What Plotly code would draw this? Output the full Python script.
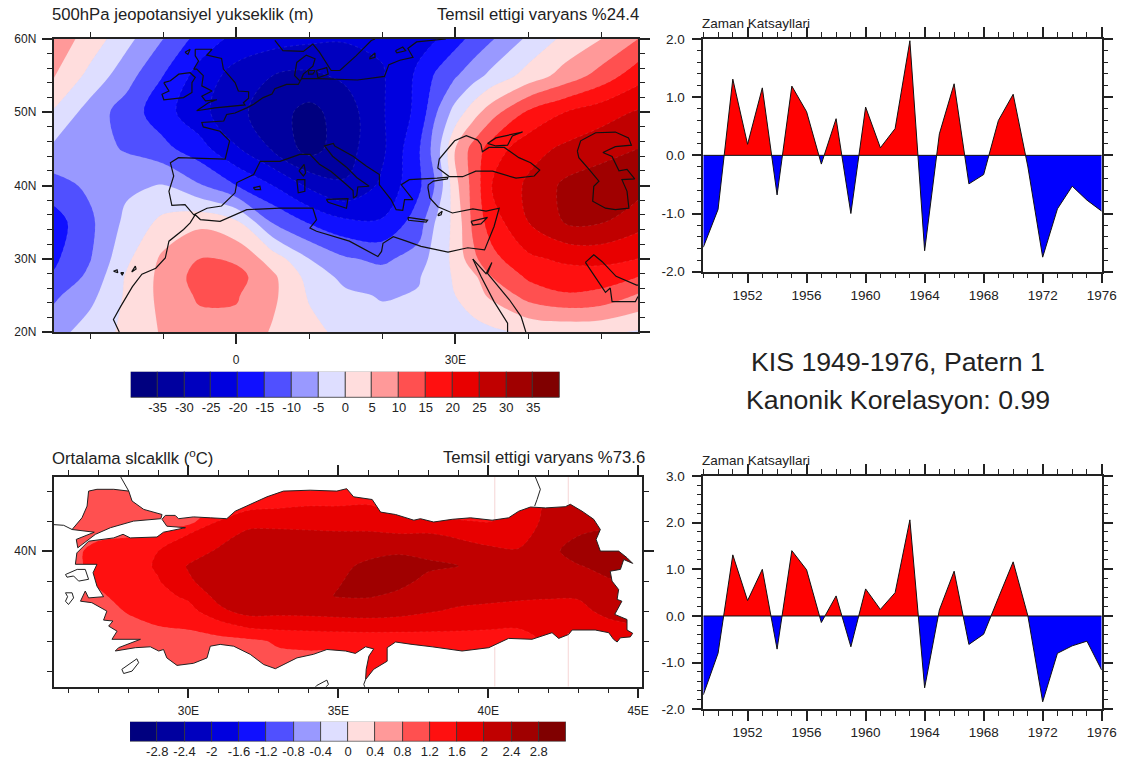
import numpy as np
import plotly.graph_objects as go

W, H = 1125, 762
FONT = "Liberation Sans"
YEARS = list(range(1949, 1977))
TS1 = [-1.58,-0.93,1.31,0.19,1.16,-0.68,1.19,0.75,-0.15,0.63,-1.0,0.83,0.13,0.46,1.97,-1.64,0.37,1.23,-0.49,-0.33,0.6,1.05,-0.2,-1.75,-0.92,-0.53,-0.77,-0.96]
TS2 = [-1.69,-0.8,1.31,0.33,1.0,-0.71,1.4,0.99,-0.14,0.43,-0.66,0.58,0.14,0.5,2.06,-1.54,0.13,0.96,-0.61,-0.39,0.39,1.16,0.0,-1.84,-0.8,-0.64,-0.54,-1.16]

BAND_COLORS = ["#00007f","#00009f","#0000bf","#0000df","#1010ff","#5050ff","#9999ff","#dedeff",
               "#ffdddd","#ff9999","#ff5050","#ff1010","#e80000","#c00000","#a00000","#800000"]
HGT_LABELS = ["-35","-30","-25","-20","-15","-10","-5","0","5","10","15","20","25","30","35"]
TMP_LABELS = ["-2.8","-2.4","-2","-1.6","-1.2","-0.8","-0.4","0","0.4","0.8","1.2","1.6","2","2.4","2.8"]

# 500 hPa field
HGT_LON = [-25,-20,-15,-10,-5,0,5,10,15,20,25,27.5,30,32.5,35,40,45,50,55]
HGT_LAT = [20,25,27.5,30,35,40,45,50,55,60]
HGT_Z = [
 [-7,-2.7,1.2,5.6,8,8.5,4.5,1.5,-1.5,-3,-3.5,-3.2,-3,-2,-1,0.8,1.2,1,-0.5],
 [-11,-6.5,0.8,6.5,10.8,10.5,6,-0.5,-4,-5.4,-4.7,-2.5,0,3,6,12,14.5,13.5,9.5],
 [-14.5,-8.7,0.6,6.5,12,12,6,-1.7,-6.5,-8,-5.3,-2.5,0.7,3.7,10,15.8,17.5,17.5,15],
 [-16,-10.3,-1,6,10,9,2.8,-5,-9.5,-11,-8,-2,1,9,13.5,19,21,21.5,20],
 [-17.5,-11,-3.7,1.3,3.8,1,-10.5,-15.5,-19,-19.5,-12.5,-4,1.5,11.5,17.5,25,30.3,30.3,27],
 [-12,-9,-6,-4.7,-9.5,-15,-20,-26,-29.5,-24,-16,-9,3.5,12,20,26,31,33,32],
 [-6,-8,-10.5,-13.5,-18,-24.5,-30.5,-37,-32,-26,-15.5,-7,5,12,17.5,23,26,28,30],
 [-0.5,-7.2,-12.3,-18,-23.5,-28.5,-33,-36.5,-32.5,-25.5,-18.5,-10,-3,3,8,15.9,20,23,25.5],
 [5.5,-1.5,-8,-15,-22,-27,-30,-31,-29,-25.5,-19,-14,-10.5,-7,-3.5,2,7,12,18],
 [8,3,-3.5,-10,-17,-21.5,-23,-24,-24.5,-24,-21.5,-20,-16.8,-13.5,-10.4,-4,1.2,5,10],
]

# Turkey temperature field, listed per longitude column
TMP_LAT = [35.5,37,37.5,38,38.5,39,39.5,40,40.5,41,41.5,42.5]
TMP_LON = [25.5,27,28,29,30,31,32,33,34,35,36,37,38,39,40,41,42,43,44,45.5]
TMP_COLS = [
 [1,1,1,1,1,1,1,1,1,1,1,1],
 [.9,.95,1,1.05,1.15,1.25,1.3,1.3,1.15,1,1,1],
 [.9,1,1.1,1.23,1.32,1.38,1.42,1.4,1.18,1,1,1],
 [.9,1.02,1.2,1.35,1.47,1.58,1.65,1.6,1.28,1.05,1,1],
 [.9,1.05,1.25,1.45,1.68,1.95,2.03,1.8,1.65,1.05,1,1],
 [.9,1.08,1.42,1.9,2.12,2.2,2.2,2.05,1.85,1.6,1.3,1.2],
 [.9,1.12,1.67,2.15,2.25,2.3,2.3,2.25,2.12,1.85,1.5,1.25],
 [.9,1.25,1.72,2.12,2.3,2.33,2.33,2.27,2.12,1.87,1.55,1.3],
 [.9,1.28,1.75,2.12,2.3,2.35,2.35,2.25,2.1,1.85,1.6,1.3],
 [.9,1.3,1.78,2.15,2.42,2.38,2.32,2.25,2.07,1.85,1.6,1.3],
 [1.25,1.32,1.8,2.17,2.43,2.5,2.47,2.3,2.07,1.85,1.62,1.35],
 [1.25,1.3,1.8,2.12,2.33,2.5,2.5,2.37,2.05,1.75,1.4,1.2],
 [1.25,1.35,1.75,2.03,2.2,2.32,2.45,2.33,2.08,1.65,1.4,1.2],
 [1.25,1.35,1.72,1.95,2.12,2.25,2.41,2.22,1.95,1.62,1.4,1.2],
 [1.25,1.35,1.68,1.9,2.1,2.2,2.25,2.1,1.83,1.58,1.4,1.2],
 [1.25,1.35,1.65,1.85,2.07,2.22,2.2,2.03,1.85,1.72,1.6,1.4],
 [1.6,1.7,1.8,1.88,2.03,2.25,2.28,2.3,2.2,2.12,2.1,1.9],
 [1.6,1.7,1.8,1.9,2.03,2.25,2.38,2.55,2.4,2.2,2.1,1.9],
 [1.7,1.75,1.9,2.1,2.2,2.37,2.5,2.6,2.5,2.3,2.2,2],
 [1.9,1.95,2.05,2.2,2.3,2.5,2.6,2.7,2.6,2.4,2.3,2.1],
]

EUROPE = [(8.95,54.6),(8.5,53.8),(6.9,53.8),(5.3,53.2),(4.9,52.5),(3.7,52),(2.4,51.1),(1.45,50.6),(-0.15,49.9),(-1.3,49.7),(-1.7,48.8),(-4.7,48.6),(-4.5,48),(-2.2,47.4),(-0.9,46.1),(-1.5,43.6),(-7.9,43.8),(-9,43.1),(-8.55,41.3),(-9.2,39.2),(-8.8,37.3),(-7,37.4),(-5.8,36),(-4,36.9),(-2,37.2),(-0.15,39),(0.1,40.4),(2.4,41.5),(3.3,43.3),(6,43.3),(8.7,44.25),(10.1,44.25),(11.4,42.9),(13,41.9),(15,40.2),(16,39.3),(16.05,38.3),(16.5,38.6),(16.65,39.8),(18.2,39.9),(16.5,41.1),(15.1,42.5),(13.2,44),(12.1,45.4),(13.3,45.75),(13.5,45.4),(16,44),(17.8,42.65),(19.6,41.5),(19.6,40.1),(21.2,38.08),(21.9,36.7),(22.8,36.6),(23.05,38.08),(24.2,38.08),(22.6,40.1),(23.7,40.8),(26.2,40.9),(27.5,41),(29,41.15),(28.9,40.9),(27,40.6),(26.3,40.1),(26.25,39.7),(26.5,38.3),(27.6,37.1),(29.6,36.25),(32.4,36.8),(34.2,36.5),(36,36.9),(35.3,34.4),(34,31.2),(31.7,31.5),(29,30.9),(25.3,31.7),(23.3,32.4),(21.5,33),(20.1,32.1),(19.9,31),(19.4,30.3),(15.5,32.4),(11,33.75),(10.1,34.2),(11,35.3),(10.5,36.9),(6,36.9),(1.45,36.7),(-2.2,35.1),(-4.9,35.35),(-5.6,36),(-6.3,34.9),(-7.2,34),(-9.2,32.4),(-9.7,30.1),(-11,28.7),(-12.9,27.9),(-14.2,26.2),(-15.8,23.5),(-16.8,21.7),(-16,20)]
SCANDINAVIA = [(5.3,59.8),(6.4,58.4),(9.2,58.3),(10.5,59.3),(11.4,58.2),(13,55.7),(14.2,55.7),(16.4,57.7),(18.5,59.8),(19,60)]
BALTIC = [(28.7,60),(24.7,59.6),(23.5,58.7),(24.2,57.5),(22.4,57.1),(20.9,56.5),(20.3,54.9),(16.6,54.4),(11.4,54.6),(8.95,54.6)]
JUTLAND = [(8.7,54.3),(8,55),(8.3,56.8),(9.6,57.8),(10.8,57.3),(10.5,56.3),(9.2,55.2),(8.95,54.6)]
FUNEN = [(9.9,55.7),(10.8,55.7),(10.5,55.2),(9.9,55.2),(9.9,55.7)]
ZEALAND = [(11,55.7),(12.4,56.1),(12.6,55.2),(11.2,54.7),(11,55.7)]
GOTLAND = [(18.3,57.5),(19,58.1),(19,57.5),(18.3,57.3),(18.3,57.5)]
SAAREMAA = [(21.8,58.4),(22.8,58.9),(23.2,58.4),(22,58.1),(21.8,58.4)]
BRITAIN = [(-5.6,58.6),(-3.3,58.6),(-4,57.8),(-2,57.35),(-1.75,55.9),(-0.15,54.05),(0.3,52.9),(1.7,52.8),(1.7,51.9),(1,51.3),(1.2,51),(-2.9,50.6),(-5.4,50.2),(-3.8,51.3),(-2.65,51.7),(-4.2,51.55),(-4.7,52.2),(-3.3,52.9),(-4.7,53.6),(-4.5,55),(-5.4,55.9),(-5.8,55.9),(-5.15,57),(-5.6,57.7),(-5.6,58.6)]
IRELAND = [(-9.9,54.05),(-9,54.3),(-7.85,55.2),(-6.3,55.4),(-5.6,54.75),(-6.05,54.05),(-6.05,52.7),(-7.2,52),(-9.9,51.7),(-10.15,52.45),(-9.2,52.9),(-9.9,54.05)]
HEBRIDES = [(-7,58.2),(-6.3,58.6),(-6.6,57.9),(-7,58.2)]
CORSICA = [(8.6,42),(9.3,42.9),(9.5,41.7),(9.2,41.3),(8.6,42)]
SARDINIA = [(8.3,40.8),(9.4,40.8),(9.4,39.2),(8.5,39),(8.3,40.8)]
MALLORCA = [(2.35,39.7),(3.25,39.9),(3.35,39.45),(2.6,39.45),(2.35,39.7)]
SICILY = [(12.35,38.1),(15.3,38.2),(15.1,36.9),(13.7,37.4),(12.6,37.7),(12.35,38.1)]
CRETE = [(23.5,35.66),(24.9,35.4),(26.2,35.25),(26,35),(24.4,35.1),(23.6,35.25),(23.5,35.66)]
CYPRUS = [(32.15,35.1),(34.4,35.65),(33.5,34.75),(32.4,34.6),(32.15,35.1)]
RHODES = [(27.6,36),(28.2,36.5),(28.05,36),(27.7,35.9),(27.6,36)]
BLACK_SEA = [(29.2,41.2),(27.6,42.4),(27.8,43.6),(28.7,44.7),(29.9,46.1),(31.5,46.8),(33.05,46.2),(33.5,45.6),(33.7,44.6),(34.6,45.2),(36.7,45.2),(38.7,43.8),(40.3,43.1),(41.55,42.1),(40.8,41.3),(38.3,41),(35.1,41.95),(32.8,41.95),(31,41.2),(29.2,41.2)]
AZOV = [(34.4,45.75),(35.55,46.5),(39.2,47.3),(37.8,46.75),(37.15,45.5),(35.55,45.4),(34.4,45.75)]
CASPIAN = [(46.7,44.7),(47.15,46.1),(49.2,47.2),(51.9,47.3),(53.7,46.5),(54.1,45.5),(51.9,45.3),(50.2,44.5),(51.45,43.95),(52.4,42),(53.5,42.2),(54.55,40.9),(52.8,40.8),(53.5,39.2),(53.75,36.9),(51.9,36.7),(50.55,36.9),(48.8,37.85),(48.95,39.9),(49.65,40.6),(48.3,42.2),(46.9,43.8),(46.7,44.7)]
RED_SEA_W = [(32.4,29.95),(33.5,27.6),(35.3,24.15),(37.15,21.2),(37.15,20)]
RED_SEA_E = [(32.4,29.95),(34.2,27.95),(35,29.5),(34.4,28),(37.4,24.4),(39,22.1),(39.65,20)]
GULF_N = [(47.8,29.5),(48.95,30.55),(50.1,29.6),(52,27.6),(54.8,26.4),(55,26.4)]
GULF_S = [(47.8,29.5),(49.4,27.1),(50.55,25.4),(51.2,26),(51.45,24.15),(54.65,24.15),(55,24.85)]
CANARY_A = [(-16.8,28.3),(-16.3,28.5),(-16.2,28.1),(-16.8,28.3)]
CANARY_B = [(-15.8,28.1),(-15.4,28.1),(-15.6,27.8),(-15.8,28.1)]
CANARY_C = [(-14.3,28.2),(-13.8,29),(-13.7,28.6),(-14.3,28.2)]
MAP1_COAST = [EUROPE,SCANDINAVIA,BALTIC,JUTLAND,FUNEN,ZEALAND,GOTLAND,SAAREMAA,BRITAIN,IRELAND,HEBRIDES,CORSICA,SARDINIA,MALLORCA,SICILY,CRETE,CYPRUS,RHODES,BLACK_SEA,AZOV,CASPIAN,RED_SEA_W,RED_SEA_E,GULF_N,GULF_S,CANARY_A,CANARY_B,CANARY_C]

THRACE = [(26.67,42.0),(26.95,42.06),(27.51,42.06),(28.01,42.0),(28.12,41.67),(28.51,41.39),(29.12,41.22),(29.08,41.08),(28.17,41.0),(27.4,40.78),(26.9,40.56),(26.31,40.11),(26.26,40.39),(26.86,40.63),(26.12,40.72),(26.45,41.11),(26.62,41.5),(26.67,42.0)]
ANATOLIA = [(29.23,41.19),(29.56,41.19),(29.67,41.08),(30.17,41.14),(30.73,41.11),(31.28,41.08),(31.56,41.33),(32.06,41.56),(32.62,41.81),(33.17,42.0),(34.06,42.03),(34.95,42.0),(35.28,42.08),(35.51,41.81),(36.13,41.72),(36.41,41.3),(36.91,41.22),(37.52,41.03),(37.74,41.08),(38.18,40.97),(38.8,41.06),(39.41,41.11),(40.13,41.03),(40.68,41.11),(41.02,41.33),(41.41,41.47),(41.91,41.44),(42.57,41.48),(42.74,41.56),(43.13,41.33),(43.52,41.06),(43.74,40.72),(43.6,40.39),(43.74,40.0),(44.35,40.0),(44.63,39.78),(44.82,39.59),(44.52,39.72),(44.41,39.39),(44.07,39.33),(44.13,39.0),(44.35,38.72),(44.3,38.39),(44.46,38.33),(44.22,37.89),(44.63,37.72),(44.63,37.37),(44.82,37.26),(44.74,37.14),(44.41,37.11),(44.3,36.97),(44.18,37.06),(44.02,37.28),(43.57,37.37),(42.8,37.37),(42.68,37.22),(42.35,37.09),(42.13,37.28),(41.46,37.06),(40.68,37.09),(40.02,36.78),(39.13,36.67),(38.68,36.74),(38.13,36.81),(37.46,36.89),(36.91,36.97),(36.63,36.78),(36.63,36.33),(36.18,36.06),(35.91,35.72),(35.93,36.06),(36.02,36.5),(36.18,36.74),(35.91,36.81),(35.57,36.59),(35.24,36.67),(34.62,36.72),(34.17,36.56),(33.62,36.44),(32.9,36.08),(32.51,36.22),(32.06,36.56),(31.51,36.83),(31.06,36.89),(30.73,36.83),(30.62,36.44),(30.17,36.26),(29.62,36.19),(29.28,36.44),(29.17,36.72),(29.01,36.67),(28.73,36.81),(28.23,36.78),(27.56,36.67),(27.67,36.78),(28.4,37.06),(27.45,37.06),(27.62,37.33),(27.34,37.5),(27.48,37.67),(27.17,37.7),(27.28,38.0),(26.78,38.28),(26.4,38.33),(26.56,38.67),(26.67,38.44),(27.17,38.48),(26.95,38.83),(26.82,39.28),(26.95,39.56),(26.23,39.56),(26.28,39.94),(26.67,40.33),(27.51,40.44),(27.82,40.56),(28.06,40.44),(28.95,40.47),(29.17,40.63),(29.9,40.78),(29.28,40.83),(29.12,41.06),(29.23,41.19)]
LESBOS = [(25.9,39.22),(26.29,39.39),(26.56,39.39),(26.67,39.06),(26.34,39.0),(26.17,39.17),(25.95,39.13),(25.9,39.22)]
CHIOS = [(25.9,38.61),(26.12,38.61),(26.17,38.44),(26.0,38.22),(25.9,38.33),(25.97,38.48),(25.9,38.61)]
RHODES2 = [(27.78,36.06),(28.28,36.41),(28.34,36.28),(28.12,36.0),(27.84,35.92),(27.78,36.06)]
CYPRUS2 = [(34.17,35.39),(34.28,35.52),(34.62,35.7),(34.67,35.56),(34.56,35.44)]
BULGARIA = [(27.67,42.6),(28.01,42.0)]
GREECE = [(25.4,40.89),(25.84,40.86),(26.12,40.72)]
GEORGIA = [(41.52,42.6),(41.74,42.06),(41.63,41.72),(41.55,41.5)]
SYRIA = [(35.91,35.72),(35.85,35.56),(35.91,35.4)]
MAP2_COAST = [THRACE,ANATOLIA,LESBOS,CHIOS,RHODES2,CYPRUS2,BULGARIA,GREECE,GEORGIA,SYRIA]
ARTEFACT_A = [(40.22,41.03),(40.22,42.48),None,(40.22,35.48),(40.22,36.8)]
ARTEFACT_B = [(42.67,41.55),(42.67,42.48),None,(42.67,35.48),(42.67,37.25)]

def px_x(p): return p / W
def px_y(p): return 1 - p / H
def dom_x(a, b): return [px_x(a), px_x(b)]
def dom_y(top, bottom): return [px_y(bottom), px_y(top)]

def step_scale(colors):
    n = len(colors); out = []
    for i, c in enumerate(colors):
        out += [[i / n, c], [(i + 1) / n, c]]
    return out

def join(parts):
    xs, ys = [], []
    for part in parts:
        xs += [p[0] for p in part] + [None]
        ys += [p[1] for p in part] + [None]
    return xs, ys

def split_signs(xv, yv):
    xs, ys = [], []
    for i in range(len(xv)):
        xs.append(xv[i]); ys.append(yv[i])
        if i < len(xv) - 1 and yv[i] * yv[i + 1] < 0:
            xs.append(xv[i] + (xv[i + 1] - xv[i]) * yv[i] / (yv[i] - yv[i + 1])); ys.append(0.0)
    ys = np.array(ys)
    return xs, np.maximum(ys, 0).tolist(), np.minimum(ys, 0).tolist()

fig = go.Figure()

# ---- map 1
fig.add_trace(go.Contour(x=HGT_LON, y=HGT_LAT, z=HGT_Z, xaxis="x", yaxis="y", showscale=False,
    zmin=-40, zmax=40, colorscale=step_scale(BAND_COLORS), autocontour=False,
    contours=dict(start=-35, end=35, size=5, coloring="fill", showlines=True),
    line=dict(color="rgba(205,205,215,0.25)", width=0.5, dash="dot", smoothing=1.0), hoverinfo="skip"))
cx, cy = join(MAP1_COAST)
fig.add_trace(go.Scatter(x=cx, y=cy, xaxis="x", yaxis="y", mode="lines",
    line=dict(color="#111111", width=1.2), hoverinfo="skip"))

# ---- map 2
tz = np.array(TMP_COLS).T.tolist()
fig.add_trace(go.Contour(x=TMP_LON, y=TMP_LAT, z=tz, xaxis="x2", yaxis="y2", showscale=False,
    zmin=-3.2, zmax=3.2, colorscale=step_scale(BAND_COLORS), autocontour=False,
    contours=dict(start=-2.8, end=2.8, size=0.4, coloring="fill", showlines=True),
    line=dict(color="rgba(225,190,190,0.2)", width=0.5, dash="dot", smoothing=0.9), hoverinfo="skip"))
X0, X1, Y0, Y1 = 25.0, 46.0, 35.0, 43.0
outer = [(X0, Y1), (X0, Y0), (X1, Y0), (X1, Y1), (X0, Y1)]
mask = outer + THRACE + [(X0, Y1)] + ANATOLIA + [(X0, Y1)]
fig.add_trace(go.Scatter(x=[p[0] for p in mask], y=[p[1] for p in mask], xaxis="x2", yaxis="y2",
    mode="lines", fill="toself", fillcolor="white", line=dict(width=0, color="white"), hoverinfo="skip"))
for seg in (ARTEFACT_A, ARTEFACT_B):
    fig.add_trace(go.Scatter(x=[p[0] if p else None for p in seg], y=[p[1] if p else None for p in seg],
        xaxis="x2", yaxis="y2", mode="lines", line=dict(color="#f6d5d5", width=1), hoverinfo="skip"))
cx, cy = join(MAP2_COAST)
fig.add_trace(go.Scatter(x=cx, y=cy, xaxis="x2", yaxis="y2", mode="lines",
    line=dict(color="#222222", width=1.0), hoverinfo="skip"))

# ---- colour bars
fig.add_trace(go.Bar(x=list(range(16)), y=[1] * 16, width=1, xaxis="x3", yaxis="y3",
    marker=dict(color=BAND_COLORS, line=dict(color="#333333", width=0.8)), hoverinfo="skip"))
fig.add_trace(go.Bar(x=list(range(16)), y=[1] * 16, width=1, xaxis="x4", yaxis="y4",
    marker=dict(color=BAND_COLORS, line=dict(color="#333333", width=0.8)), hoverinfo="skip"))

# ---- time series
for vals, xa, ya in ((TS1, "x5", "y5"), (TS2, "x6", "y6")):
    xs, pos, neg = split_signs(YEARS, vals)
    fig.add_trace(go.Scatter(x=xs, y=pos, xaxis=xa, yaxis=ya, mode="none", fill="tozeroy",
        fillcolor="#ff0000", hoverinfo="skip"))
    fig.add_trace(go.Scatter(x=xs, y=neg, xaxis=xa, yaxis=ya, mode="none", fill="tozeroy",
        fillcolor="#0000ff", hoverinfo="skip"))
    fig.add_trace(go.Scatter(x=[YEARS[0], YEARS[-1]], y=[0, 0], xaxis=xa, yaxis=ya, mode="lines",
        line=dict(color="#111111", width=1), hoverinfo="skip"))
    fig.add_trace(go.Scatter(x=YEARS, y=vals, xaxis=xa, yaxis=ya, mode="lines",
        line=dict(color="#111111", width=1), hoverinfo="skip"))

def axis(domain, rng, major, labels, minor, size=12, length=10, standoff=None, anchor=None):
    d = dict(domain=domain, range=rng, tickmode="array", tickvals=major, ticktext=labels,
             ticks="outside", ticklen=length, tickwidth=1.5, tickcolor="#222222", automargin=False,
             showline=True, linewidth=1.5, linecolor="#222222", mirror="ticks",
             showgrid=False, zeroline=False, layer="above traces",
             tickfont=dict(family=FONT, size=size, color="#222222"),
             minor=dict(tickmode="array", tickvals=minor, ticks="outside", ticklen=5,
                        tickwidth=1, tickcolor="#222222", showgrid=False))
    if anchor: d["anchor"] = anchor
    if standoff is not None: d["ticklabelstandoff"] = standoff
    return d

def bar_axis(domain, labels, anchor):
    return dict(domain=domain, range=[-0.5, 15.5], tickmode="array", anchor=anchor, automargin=False,
                tickvals=[i + 0.5 for i in range(15)], ticktext=labels, ticks="",
                showgrid=False, zeroline=False, showline=False, ticklen=0,
                tickfont=dict(family=FONT, size=13, color="#222222"))

def bar_y(domain, anchor):
    return dict(domain=domain, range=[0, 1], visible=False, anchor=anchor, automargin=False)

ts_x = [1952, 1956, 1960, 1964, 1968, 1972, 1976]
ts_minor = YEARS
layout = dict(
    width=W, height=H, autosize=False, margin=dict(l=0, r=0, t=0, b=0), showlegend=False,
    plot_bgcolor="white", paper_bgcolor="white", bargap=0,
    xaxis=axis(dom_x(53.5, 638), [-25, 55], [0, 30], ["0", "30E"], list(range(-20, 55, 10)), standoff=6, anchor="y"),
    yaxis=axis(dom_y(39, 332), [20, 60], [20, 30, 40, 50, 60], ["20N", "30N", "40N", "50N", "60N"], list(range(20, 61, 2)), standoff=3, anchor="x"),
    xaxis2=axis(dom_x(53.5, 642), [25.5, 45.13], [30, 35, 40, 45], ["30E", "35E", "40E", "45E"], list(range(26, 46)), standoff=2, anchor="y2"),
    yaxis2=axis(dom_y(476.7, 686.7), [35.48, 42.48], [40], ["40N"], list(range(36, 43)), standoff=3, anchor="x2"),
    xaxis3=bar_axis(dom_x(130.7, 560), HGT_LABELS, "y3"), yaxis3=bar_y(dom_y(371.7, 398), "x3"),
    xaxis4=bar_axis(dom_x(130, 566), TMP_LABELS, "y4"), yaxis4=bar_y(dom_y(721.7, 741.7), "x4"),
    xaxis5=axis(dom_x(703.3, 1101.7), [1949, 1976], ts_x, [str(v) for v in ts_x], ts_minor, size=13.5, anchor="y5"),
    yaxis5=axis(dom_y(39, 271.7), [-2, 2], [-2, -1, 0, 1, 2], ["-2.0", "-1.0", "0.0", "1.0", "2.0"], [round(-2 + 0.2 * i, 1) for i in range(21)], size=13.5, standoff=4, anchor="x5"),
    xaxis6=axis(dom_x(703.3, 1101.7), [1949, 1976], ts_x, [str(v) for v in ts_x], ts_minor, size=13.5, anchor="y6"),
    yaxis6=axis(dom_y(476, 709.3), [-2, 3], [-2, -1, 0, 1, 2, 3], ["-2.0", "-1.0", "0.0", "1.0", "2.0", "3.0"], [round(-2 + 0.2 * i, 1) for i in range(26)], size=13.5, standoff=4, anchor="x6"),
)

def note(text, x, y, size, xanchor="left"):
    return dict(text=text, x=px_x(x), y=px_y(y), xref="paper", yref="paper", xanchor=xanchor,
                yanchor="middle", showarrow=False, font=dict(family=FONT, size=size, color="#222222"))

layout["annotations"] = [
    note("500hPa jeopotansiyel yukseklik (m)", 50, 15, 16.7),
    note("Temsil ettigi varyans %24.4", 641, 15, 16.7, "right"),
    note("Ortalama slcakllk (<sup>o</sup>C)", 50, 457, 16.7),
    note("Temsil ettigi varyans %73.6", 647, 457, 16.7, "right"),
    note("Zaman Katsayllari", 700, 23, 13.5),
    note("Zaman Katsayllari", 700, 460, 13.5),
    note("KIS 1949-1976, Patern 1", 898, 362, 26.7, "center"),
    note("Kanonik Korelasyon: 0.99", 898, 400, 26.7, "center"),
]
fig.update_layout(**layout)
fig.write_html("out.html", config={"displayModeBar": False}, post_script="document.body.style.margin='0';")
